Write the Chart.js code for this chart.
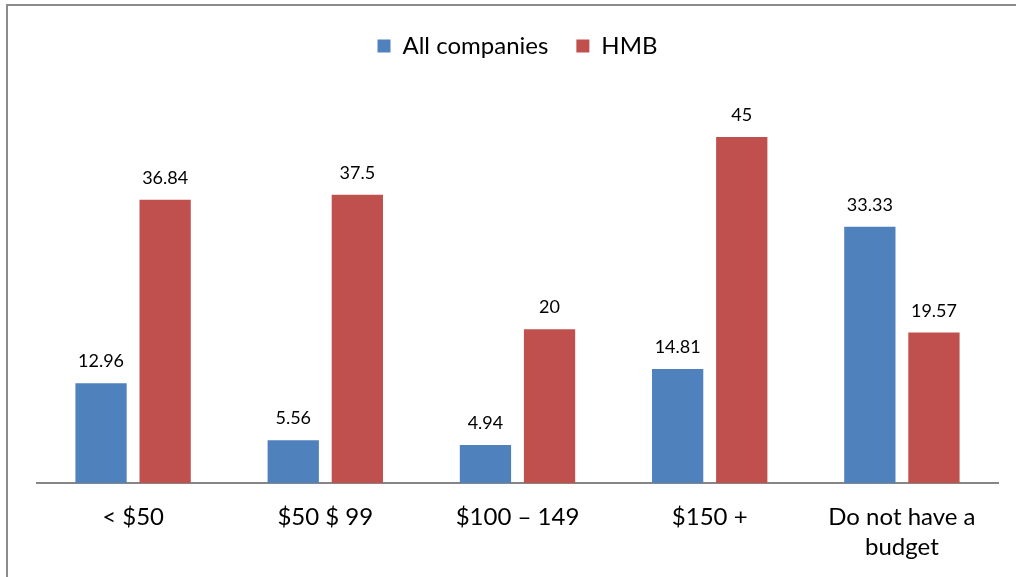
<!DOCTYPE html>
<html>
<head>
<meta charset="utf-8">
<script src="https://cdn.jsdelivr.net/npm/chart.js@4.4.1/dist/chart.umd.min.js"></script>
<style>
  html, body { margin: 0; padding: 0; background: #fff; }
  #wrap { width: 1016px; height: 577px; }
</style>
</head>
<body>
<div id="wrap"><canvas id="budgetChart" width="1016" height="577"></canvas></div>
<script>
// Budget bands, share of respondents (%)
const categories = ["< $50", "$50 $ 99", "$100 – 149", "$150 +", ["Do not have a", "budget"]];
const allCompanies = [12.96, 5.56, 4.94, 14.81, 33.33];
const hmb = [36.84, 37.5, 20, 45, 19.57];

const FONT = "Lato, 'Open Sans', sans-serif";

// gray frame round the chart, like the spreadsheet export
const framePlugin = {
  id: "frame",
  beforeDraw(chart) {
    const ctx = chart.ctx;
    ctx.save();
    ctx.strokeStyle = "#8c8c8c";
    ctx.lineWidth = 2;
    ctx.strokeRect(7, 5, 1200, 800);
    ctx.restore();
  },
};

// value above every bar
const valueLabels = {
  id: "valueLabels",
  afterDatasetsDraw(chart) {
    const ctx = chart.ctx;
    ctx.save();
    ctx.font = "18px " + FONT;
    ctx.fillStyle = "#000";
    ctx.textAlign = "center";
    ctx.textBaseline = "alphabetic";
    chart.data.datasets.forEach((ds, i) => {
      chart.getDatasetMeta(i).data.forEach((bar, j) => {
        ctx.fillText(String(ds.data[j]), bar.x, bar.y - 16);
      });
    });
    ctx.restore();
  },
};

// legend takes the space above the plot
const legendSpace = {
  id: "legendSpace",
  beforeInit(chart) {
    const origFit = chart.legend.fit;
    chart.legend.fit = function () {
      origFit.bind(chart.legend)();
      this.height = 92.5;
    };
  },
};

new Chart(document.getElementById("budgetChart"), {
  type: "bar",
  data: {
    labels: categories,
    datasets: [
      {
        label: "All companies",
        data: allCompanies,
        backgroundColor: "#4F81BD",
        categoryPercentage: 0.667,
        barPercentage: 0.8,
      },
      {
        label: "HMB",
        data: hmb,
        backgroundColor: "#C0504D",
        categoryPercentage: 0.667,
        barPercentage: 0.8,
      },
    ],
  },
  options: {
    responsive: false,
    animation: false,
    layout: { padding: { top: 6, left: 37, right: 18, bottom: 0 } },
    plugins: {
      legend: {
        position: "top",
        labels: {
          boxWidth: 13,
          boxHeight: 13,
          padding: 28,
          color: "#000",
          font: { family: FONT, size: 24 },
        },
      },
      tooltip: { enabled: false },
    },
    scales: {
      x: {
        grid: { display: false, drawTicks: false },
        border: { display: true, color: "#868686", width: 2 },
        ticks: {
          color: "#000",
          padding: 19,
          maxRotation: 0,
          autoSkip: false,
          font: { family: FONT, size: 24, lineHeight: "30px" },
        },
        afterFit(scale) {
          scale.height = 94;
        },
      },
      y: {
        display: false,
        min: 0,
        max: 50,
      },
    },
  },
  plugins: [framePlugin, valueLabels, legendSpace],
});
</script>
</body>
</html>
